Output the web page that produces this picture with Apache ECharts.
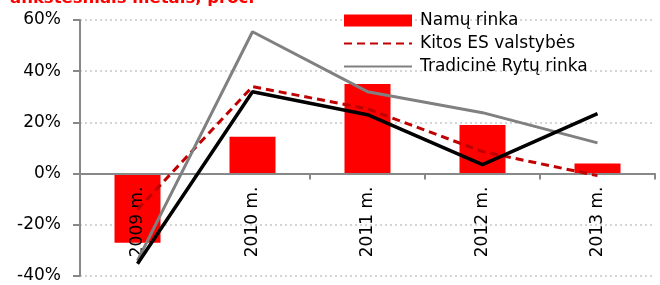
<!DOCTYPE html>
<html><head><meta charset="utf-8">
<script src="https://cdn.jsdelivr.net/npm/echarts@6/dist/echarts.min.js"></script>
<style>html,body{margin:0;padding:0;background:#fff}#c{width:660px;height:285px}</style>
</head><body><div id="c"></div>
<script>
var categories = ['2009 m.', '2010 m.', '2011 m.', '2012 m.', '2013 m.'];
var namuRinka = [-27, 14.4, 35, 19, 3.9];
var kitosES = [-14, 34, 25.3, 8.6, -0.8];
var rytuRinka = [-34, 55.4, 32, 23.8, 12];
var viso = [-35.2, 32, 23, 3.5, 23.4];
var titleText = 'ankstesniais metais, proc.';
var FONT = 'DejaVu Sans';

var Y_MIN = -40, Y_MAX = 60, GRID_TOP = 20, GRID_BOTTOM = 9, H = 285;
var plotH = H - GRID_TOP - GRID_BOTTOM;
var zeroOffset = -plotH * (0 - Y_MIN) / (Y_MAX - Y_MIN);

var chart = echarts.init(document.getElementById('c'));
chart.setOption({
  animation: false,
  textStyle: {fontFamily: FONT},
  graphic: [{
    type: 'text', left: 10, top: -10,
    style: {text: titleText, fill: '#ff0000', font: 'bold 16.5px "DejaVu Sans"'}
  }],
  legend: {
    orient: 'vertical', left: 343, top: 12, itemGap: 6, padding: 0,
    itemWidth: 68, itemHeight: 12,
    textStyle: {fontSize: 17, color: '#000', fontFamily: FONT, padding: [0, 0, 0, 3]},
    data: [
      {name: 'Namų rinka', icon: 'rect'},
      {name: 'Kitos ES valstybės', itemStyle: {opacity: 0}},
      {name: 'Tradicinė Rytų rinka', itemStyle: {opacity: 0}}
    ]
  },
  grid: {left: 80, right: 5, top: GRID_TOP, bottom: GRID_BOTTOM, containLabel: false, outerBoundsMode: 'none'},
  xAxis: [{
    type: 'category', data: categories, z: 4,
    axisLine: {onZero: true, lineStyle: {color: '#888', width: 2}},
    axisTick: {show: true, length: 6, lineStyle: {color: '#888', width: 2}},
    axisLabel: {show: false},
    splitLine: {show: false}
  }, {
    type: 'category', data: categories, position: 'bottom', offset: zeroOffset, z: 4,
    axisLine: {show: false, onZero: false},
    axisTick: {show: false},
    axisLabel: {rotate: 90, margin: 13, fontSize: 17, color: '#000', fontFamily: FONT},
    splitLine: {show: false}
  }],
  yAxis: {
    type: 'value', min: Y_MIN, max: Y_MAX, interval: 20,
    axisLine: {show: true, lineStyle: {color: '#888', width: 2}},
    axisTick: {show: true, length: 7, lineStyle: {color: '#888', width: 2}},
    axisLabel: {formatter: '{value}%', margin: 19, fontSize: 17, color: '#000', fontFamily: FONT},
    splitLine: {show: true, lineStyle: {color: '#c8c8c8', type: [2, 3], width: 1.5}}
  },
  series: [
    {name: 'Namų rinka', type: 'bar', data: namuRinka, barWidth: 46, z: 2,
     itemStyle: {color: '#ff0000'}},
    {name: 'Kitos ES valstybės', type: 'line', data: kitosES, symbol: 'none', z: 6,
     lineStyle: {color: '#c00000', width: 3, type: [8, 5]}, itemStyle: {color: '#c00000'}},
    {name: 'Tradicinė Rytų rinka', type: 'line', data: rytuRinka, symbol: 'none', z: 7,
     lineStyle: {color: '#808080', width: 3}, itemStyle: {color: '#808080'}},
    {name: 'Iš viso', type: 'line', data: viso, symbol: 'none', z: 8,
     lineStyle: {color: '#000', width: 3.5}, itemStyle: {color: '#000'}}
  ]
});
</script></body></html>
